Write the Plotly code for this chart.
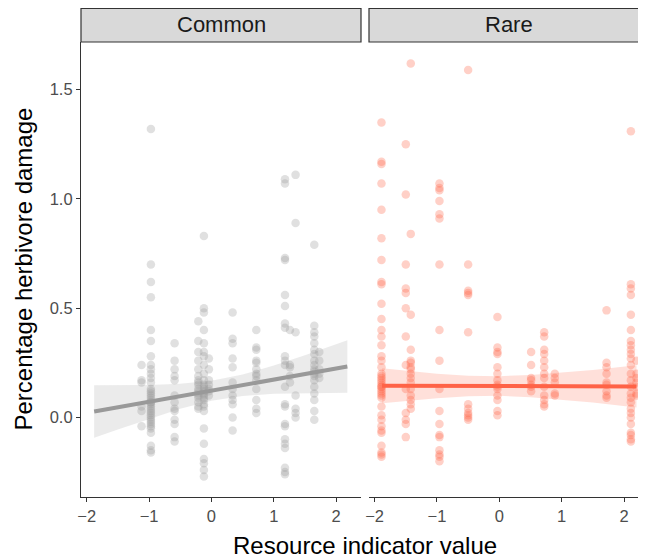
import plotly.graph_objects as go

# ---------------- data ----------------
common_cols_x = [-1.12, -0.97, -0.59, -0.21, -0.12, -0.04, 0.34, 0.72, 1.18, 1.26, 1.35, 1.65, 1.73]
common_cols_y = [
    [0.24, 0.17, 0.16, 0.05, 0.03, -0.04],
    [1.32, 0.70, 0.62, 0.55, 0.40, 0.35, 0.28, 0.24, 0.22, 0.20, 0.18, 0.16, 0.13, 0.12, 0.11, 0.10,
     0.09, 0.08, 0.07, 0.07, 0.06, 0.05, 0.04, 0.03, 0.02, 0.01, 0.00, -0.01, -0.02, -0.03, -0.04,
     -0.05, -0.07, -0.13, -0.15, -0.16],
    [0.34, 0.26, 0.22, 0.19, 0.17, 0.10, 0.07, 0.04, 0.03, -0.01, -0.03, -0.09, -0.11],
    [0.44, 0.35, 0.30, 0.26, 0.22, 0.19, 0.17, 0.16, 0.15, 0.13, 0.12, 0.11, 0.10, 0.09, 0.07, 0.05, 0.04],
    [0.83, 0.50, 0.48, 0.40, 0.34, 0.30, 0.28, 0.24, 0.20, 0.17, 0.15, 0.14, 0.13, 0.12, 0.11, 0.10,
     0.09, 0.08, 0.06, 0.05, 0.03, -0.05, -0.12, -0.19, -0.21, -0.24, -0.27],
    [0.27, 0.22, 0.17, 0.15, 0.13, 0.12, 0.10],
    [0.48, 0.36, 0.34, 0.27, 0.23, 0.16, 0.13, 0.10, 0.08, 0.06, 0.00, -0.06],
    [0.40, 0.32, 0.31, 0.26, 0.25, 0.22, 0.20, 0.19, 0.17, 0.13, 0.08, 0.04, 0.02],
    [1.09, 1.07, 0.73, 0.72, 0.56, 0.51, 0.43, 0.41, 0.28, 0.26, 0.24, 0.14, 0.06, 0.05, -0.03, -0.04,
     -0.10, -0.12, -0.14, -0.23, -0.25, -0.26],
    [0.40, 0.24, 0.23, 0.19, 0.16],
    [1.11, 0.89, 0.39, 0.10, 0.04, 0.02, 0.00],
    [0.79, 0.42, 0.39, 0.37, 0.34, 0.31, 0.29, 0.26, 0.24, 0.22, 0.21, 0.20, 0.19, 0.17, 0.14, 0.11,
     0.08, 0.03, -0.01],
    [0.30, 0.26, 0.22, 0.20, 0.18],
]

rare_cols_x = [-1.89, -1.50, -1.42, -0.96, -0.50, -0.03, 0.51, 0.72, 0.89, 1.72, 2.11, 2.20]
rare_cols_y = [
    [1.35, 1.17, 1.16, 1.07, 0.95, 0.82, 0.72, 0.62, 0.61, 0.52, 0.45, 0.40, 0.37, 0.33, 0.28, 0.26,
     0.23, 0.20, 0.19, 0.18, 0.17, 0.16, 0.15, 0.14, 0.14, 0.13, 0.12, 0.11, 0.10, 0.09, 0.05, 0.01,
     -0.01, -0.04, -0.06, -0.07, -0.13, -0.16, -0.17, -0.18],
    [1.25, 1.02, 0.70, 0.59, 0.57, 0.50, 0.37, 0.24, 0.13, 0.02, -0.01, -0.03, -0.09],
    [1.62, 0.84, 0.47, 0.31, 0.26, 0.25, 0.23, 0.22, 0.20, 0.18, 0.16, 0.13, 0.10, 0.08, 0.06, 0.04],
    [1.07, 1.05, 1.04, 0.99, 0.93, 0.91, 0.70, 0.40, 0.26, 0.13, 0.03, -0.03, -0.08, -0.09, -0.15,
     -0.17, -0.18, -0.20],
    [1.59, 0.70, 0.58, 0.57, 0.56, 0.39, 0.06, 0.04, 0.02, 0.01, 0.00, -0.01],
    [0.46, 0.32, 0.30, 0.29, 0.23, 0.20, 0.17, 0.15, 0.14, 0.13, 0.10, 0.08, 0.03, 0.01],
    [0.30, 0.24, 0.18, 0.17, 0.15, 0.14, 0.12],
    [0.39, 0.37, 0.31, 0.29, 0.26, 0.23, 0.20, 0.18, 0.14, 0.10, 0.08, 0.06, 0.05],
    [0.20, 0.18, 0.16, 0.11, 0.10],
    [0.49, 0.25, 0.23, 0.20, 0.16, 0.15, 0.12, 0.10, 0.09],
    [1.31, 0.61, 0.59, 0.56, 0.47, 0.40, 0.35, 0.33, 0.31, 0.29, 0.27, 0.24, 0.20, 0.17, 0.14, 0.11,
     0.09, 0.07, 0.04, 0.02, 0.00, -0.03, -0.07, -0.08, -0.10, -0.11],
    [0.26, 0.20, 0.18, 0.16, 0.14, 0.11, 0.10],
]

# fitted lines and confidence bands
common_fit_x = [-1.88, 2.18]
common_fit_y = [0.027, 0.233]
common_band_x = [-1.88, -1.5, -1.0, -0.5, 0.0, 0.5, 1.0, 1.5, 1.8, 2.18]
common_band_lo = [-0.093, -0.055, -0.006, 0.040, 0.076, 0.098, 0.108, 0.111, 0.112, 0.113]
common_band_hi = [0.147, 0.147, 0.148, 0.154, 0.168, 0.196, 0.238, 0.285, 0.314, 0.353]

rare_fit_x = [-1.88, 2.20]
rare_fit_y = [0.145, 0.142]
rare_band_x = [-1.88, -1.5, -1.0, -0.5, 0.0, 0.5, 1.0, 1.5, 2.2]
rare_band_lo = [0.065, 0.076, 0.088, 0.097, 0.099, 0.093, 0.082, 0.068, 0.045]
rare_band_hi = [0.225, 0.214, 0.200, 0.191, 0.189, 0.194, 0.204, 0.217, 0.239]

facet_labels = ["Common", "Rare"]
x_ticks = [-2, -1, 0, 1, 2]
y_ticks = [0.0, 0.5, 1.0, 1.5]

# ---------------- styling ----------------
GREY = "#999999"
TOMATO = "#FF6347"
FONT = "Liberation Sans, Arial, sans-serif"


def flatten(cols_x, cols_y):
    xs, ys = [], []
    for cx, cy in zip(cols_x, cols_y):
        xs.extend([cx] * len(cy))
        ys.extend(cy)
    return xs, ys


fig = go.Figure()

panels = [
    (common_cols_x, common_cols_y, common_fit_x, common_fit_y, common_band_x, common_band_lo,
     common_band_hi, GREY, "rgba(153,153,153,0.2)", "x", "y"),
    (rare_cols_x, rare_cols_y, rare_fit_x, rare_fit_y, rare_band_x, rare_band_lo,
     rare_band_hi, TOMATO, "rgba(255,99,71,0.2)", "x2", "y2"),
]

for cols_x, cols_y, fx, fy, bx, blo, bhi, col, bandcol, xa, ya in panels:
    px, py = flatten(cols_x, cols_y)
    fig.add_trace(go.Scatter(
        x=px, y=py, mode="markers", xaxis=xa, yaxis=ya,
        marker=dict(size=8.5, color=col, opacity=0.3, line=dict(width=0)),
        showlegend=False, hoverinfo="skip", cliponaxis=False))
    fig.add_trace(go.Scatter(
        x=bx + bx[::-1], y=bhi + blo[::-1], mode="lines", fill="toself",
        fillcolor=bandcol, line=dict(width=0), xaxis=xa, yaxis=ya,
        showlegend=False, hoverinfo="skip"))
    fig.add_trace(go.Scatter(
        x=fx, y=fy, mode="lines", line=dict(color=col, width=4), xaxis=xa, yaxis=ya,
        showlegend=False, hoverinfo="skip"))

# The page body has an 8px margin, so the figure is drawn 8px smaller and
# everything is placed 8px up/left of its position in the reference.
OFF = 8
W, H = 646 - OFF, 558 - OFF
ML, MR, MT, MB = 81 - OFF, 0, 42 - OFF, 61
PW = W - ML - MR
PH = H - MT - MB

left_dom = [0, 280 / PW]
right_dom = [(369 - 81) / PW, 1]

xr_left = [-2.091, 2.399]
xr_right = [-2.09, -2.09 + (646 - 369) / 62.35]
yr = [-0.364, 1.718]

axis_common = dict(
    showgrid=False, zeroline=False, showline=True, linecolor="#333333", linewidth=1.2,
    ticks="outside", ticklen=4, tickwidth=1, tickcolor="#333333", automargin=False,
    tickfont=dict(family=FONT, size=16.5, color="#4D4D4D"),
)

fig.update_layout(
    width=W, height=H,
    margin=dict(l=ML, r=MR, t=MT, b=MB, autoexpand=False),
    plot_bgcolor="white", paper_bgcolor="white",
    font=dict(family=FONT),
    xaxis=dict(domain=left_dom, range=xr_left, tickvals=x_ticks, anchor="y", **axis_common),
    xaxis2=dict(domain=right_dom, range=xr_right, tickvals=x_ticks, anchor="y2", **axis_common),
    yaxis=dict(range=yr, tickvals=y_ticks, tickformat=".1f", anchor="x", **axis_common),
    yaxis2=dict(range=yr, anchor="x2", showgrid=False, zeroline=False, showline=False,
                showticklabels=False, ticks="", automargin=False),
)

strip_h = (MT - 0.5) / PH
for lab, dom in zip(facet_labels, [left_dom, [right_dom[0], right_dom[0] + 280 / PW]]):
    fig.add_shape(type="rect", xref="paper", yref="paper", x0=dom[0], x1=dom[1],
                  y0=1, y1=1 + strip_h, fillcolor="#D9D9D9",
                  line=dict(color="#333333", width=1.2), layer="above")
    fig.add_annotation(xref="paper", yref="paper", x=(dom[0] + dom[1]) / 2,
                       y=1 + (42 - 24.5) / PH,
                       text=lab, showarrow=False, xanchor="center", yanchor="middle",
                       font=dict(family=FONT, size=22, color="#1A1A1A"))

# axis titles (reference pixel positions shifted by OFF)
plot_bottom = H - MB
fig.add_annotation(xref="paper", yref="paper", x=(365 - 81) / PW,
                   y=(plot_bottom - (545 - OFF)) / PH,
                   text="Resource indicator value", showarrow=False,
                   xanchor="center", yanchor="middle",
                   font=dict(family=FONT, size=24, color="#000000"))
fig.add_annotation(xref="paper", yref="paper", x=(23 - 81) / PW, y=0.5,
                   text="Percentage herbivore damage", showarrow=False, textangle=-90,
                   xanchor="center", yanchor="middle",
                   font=dict(family=FONT, size=24, color="#000000"))

fig.write_html("out.html")
